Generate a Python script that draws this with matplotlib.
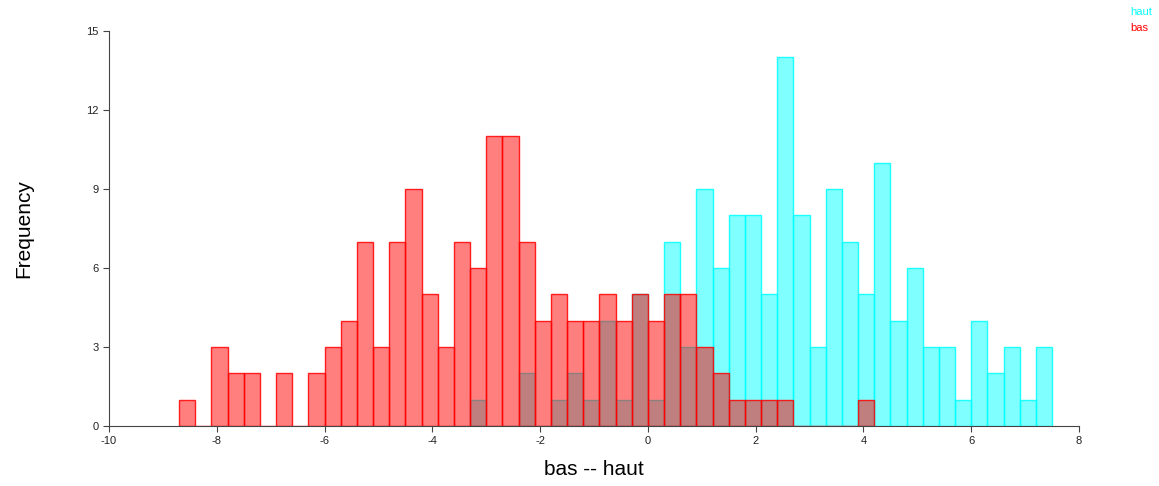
import matplotlib
matplotlib.use("Agg")
import matplotlib.pyplot as plt
import numpy as np

# histogram counts, bin width 0.3
bin_width = 0.3

bas_start = -8.7
bas_counts = [1, 0, 3, 2, 2, 0, 2, 0, 2, 3, 4, 7, 3, 7, 9, 5, 3, 7, 6, 11,
              11, 7, 4, 5, 4, 4, 5, 4, 5, 4, 5, 5, 3, 2, 1, 1, 1, 1, 0, 0,
              0, 0, 1]

haut_start = -3.3
haut_counts = [1, 0, 0, 2, 0, 1, 2, 1, 4, 1, 5, 1, 7, 3, 9, 6, 8, 8, 5, 14,
               8, 3, 9, 7, 5, 10, 4, 6, 3, 3, 1, 4, 2, 3, 1, 3]

x_ticks = [-10, -8, -6, -4, -2, 0, 2, 4, 6, 8]
y_ticks = [0, 3, 6, 9, 12, 15]

plt.rcParams["font.family"] = ["Liberation Sans", "DejaVu Sans"]
plt.rcParams["axes.unicode_minus"] = False

fig = plt.figure(figsize=(11.59, 4.86), dpi=100)
ax = fig.add_axes([0.094, 0.1235, 0.837, 0.8127])


def bin_lefts(start, counts):
    return start + bin_width * np.arange(len(counts))


ax.bar(bin_lefts(haut_start, haut_counts), haut_counts, width=bin_width,
       align="edge", facecolor=(0, 1, 1, 0.5), edgecolor=(0, 1, 1, 0.85),
       linewidth=1.0)
ax.bar(bin_lefts(bas_start, bas_counts), bas_counts, width=bin_width,
       align="edge", facecolor=(1, 0, 0, 0.5), edgecolor=(1, 0, 0, 0.85),
       linewidth=1.0)

ax.set_xlim(-10, 8)
ax.set_ylim(0, 15)
ax.set_xticks(x_ticks)
ax.set_yticks(y_ticks)
ax.tick_params(labelsize=8, length=4, color="#444444", labelcolor="#222222")

for side in ["top", "right"]:
    ax.spines[side].set_visible(False)
for side in ["left", "bottom"]:
    ax.spines[side].set_color("#444444")

ax.set_xlabel("bas -- haut", fontsize=15, labelpad=10)
ax.set_ylabel("Frequency", fontsize=15, labelpad=38)

fig.text(0.975, 0.975, "haut", color="cyan", fontsize=8, ha="left", va="center")
fig.text(0.975, 0.942, "bas", color="red", fontsize=8, ha="left", va="center")

fig.savefig("out.png", dpi=100)
